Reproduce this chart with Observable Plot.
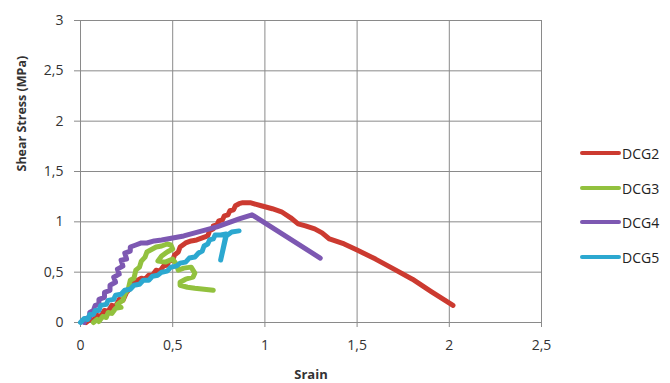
<!DOCTYPE html>
<html>
<head>
<meta charset="utf-8">
<script src="https://cdn.jsdelivr.net/npm/d3@7"></script>
<script src="https://cdn.jsdelivr.net/npm/@observablehq/plot@0.6"></script>
<style>
  body { margin: 0; background: #fff; font-family: "Open Sans", sans-serif; }
  #wrap { position: relative; width: 670px; height: 383px; }
  .leg { position: absolute; left: 580px; font-size: 14px; color: #222; display: flex; align-items: center; }
  .leg span.sw { display: inline-block; width: 41px; height: 4px; border-radius: 2px; margin-right: 1px; }
</style>
</head>
<body>
<div id="wrap"></div>
<script>
const seriesNames = ["DCG2", "DCG3", "DCG4", "DCG5"];
const seriesColors = ["#CC3A30", "#92C13E", "#7D58B2", "#2CA8D0"];
const xTicks = [0, 0.5, 1, 1.5, 2, 2.5];
const yTicks = [0, 0.5, 1, 1.5, 2, 2.5, 3];

const dcg2 = [[0.03,0],[0.05,0.03],[0.07,0.02],[0.09,0.07],[0.11,0.06],[0.13,0.12],[0.15,0.11],[0.17,0.17],[0.19,0.16],[0.21,0.23],[0.23,0.22],[0.25,0.30],[0.27,0.34],[0.29,0.40],[0.31,0.42],[0.33,0.44],[0.35,0.43],[0.37,0.47],[0.39,0.47],[0.41,0.52],[0.43,0.51],[0.45,0.56],[0.47,0.57],[0.48,0.61],[0.50,0.62],[0.51,0.67],[0.53,0.70],[0.54,0.75],[0.57,0.79],[0.60,0.81],[0.63,0.82],[0.66,0.84],[0.69,0.86],[0.70,0.91],[0.72,0.93],[0.72,0.96],[0.74,0.97],[0.75,1.01],[0.77,1.02],[0.78,1.06],[0.80,1.07],[0.81,1.11],[0.83,1.12],[0.84,1.16],[0.86,1.18],[0.88,1.19],[0.92,1.19],[0.98,1.16],[1.04,1.13],[1.09,1.10],[1.14,1.04],[1.18,0.98],[1.22,0.96],[1.27,0.93],[1.31,0.89],[1.35,0.83],[1.43,0.78],[1.50,0.72],[1.60,0.63],[1.70,0.53],[1.80,0.43],[1.90,0.31],[2.02,0.17]];
const dcg3 = [[0.07,0],[0.09,0.03],[0.10,0.01],[0.12,0.06],[0.14,0.05],[0.15,0.10],[0.17,0.09],[0.19,0.14],[0.22,0.15],[0.20,0.18],[0.23,0.22],[0.24,0.28],[0.26,0.34],[0.27,0.42],[0.29,0.44],[0.30,0.52],[0.32,0.55],[0.33,0.61],[0.35,0.65],[0.36,0.70],[0.38,0.72],[0.41,0.75],[0.44,0.76],[0.47,0.78],[0.49,0.77],[0.50,0.73],[0.47,0.70],[0.44,0.66],[0.42,0.61],[0.46,0.60],[0.50,0.63],[0.52,0.58],[0.53,0.52],[0.56,0.54],[0.60,0.55],[0.62,0.49],[0.61,0.45],[0.57,0.43],[0.54,0.40],[0.54,0.37],[0.58,0.35],[0.62,0.34],[0.67,0.33],[0.72,0.32]];
const dcg4 = [[0.02,0],[0.03,0.04],[0.05,0.05],[0.05,0.10],[0.07,0.12],[0.08,0.17],[0.10,0.18],[0.10,0.23],[0.13,0.25],[0.13,0.30],[0.16,0.32],[0.16,0.37],[0.19,0.40],[0.18,0.45],[0.21,0.48],[0.20,0.53],[0.23,0.56],[0.22,0.62],[0.25,0.63],[0.24,0.69],[0.27,0.71],[0.27,0.75],[0.30,0.77],[0.33,0.79],[0.36,0.79],[0.40,0.81],[0.44,0.82],[0.50,0.84],[0.56,0.86],[0.62,0.89],[0.68,0.92],[0.74,0.95],[0.80,0.99],[0.86,1.03],[0.93,1.07],[1.30,0.64]];
const dcg5 = [[0,0],[0.02,0.04],[0.04,0.03],[0.05,0.08],[0.07,0.08],[0.08,0.12],[0.10,0.12],[0.11,0.17],[0.14,0.18],[0.15,0.22],[0.18,0.23],[0.19,0.27],[0.22,0.28],[0.24,0.32],[0.27,0.33],[0.29,0.37],[0.32,0.38],[0.34,0.42],[0.37,0.42],[0.39,0.46],[0.42,0.47],[0.44,0.50],[0.47,0.51],[0.49,0.55],[0.52,0.56],[0.54,0.59],[0.57,0.60],[0.59,0.64],[0.62,0.65],[0.64,0.69],[0.66,0.71],[0.67,0.76],[0.69,0.78],[0.70,0.82],[0.72,0.83],[0.73,0.87],[0.76,0.87],[0.79,0.88],[0.76,0.62],[0.79,0.86],[0.82,0.90],[0.86,0.91]];

const allSeries = [dcg2, dcg3, dcg4, dcg5];
const rows = [];
allSeries.forEach((s, i) => s.forEach(([x, y]) => rows.push({series: seriesNames[i], x, y})));

const fmt = d => String(d).replace(".", ",");

const chart = Plot.plot({
  width: 670,
  height: 383,
  marginLeft: 80,
  marginRight: 129,
  marginTop: 20,
  marginBottom: 61,
  style: { fontFamily: "Open Sans, sans-serif", fontSize: "14px", color: "#333", background: "white" },
  x: { domain: [0, 2.5] },
  y: { domain: [0, 3] },
  color: { domain: seriesNames, range: seriesColors },
  marks: [
    Plot.gridX(xTicks, { stroke: "#8a8a8a", strokeOpacity: 1, strokeWidth: 1 }),
    Plot.gridY(yTicks, { stroke: "#8a8a8a", strokeOpacity: 1, strokeWidth: 1 }),
    Plot.axisX(xTicks, { tickSize: 5, tickPadding: 13, stroke: "#8a8a8a", fill: "#333", tickFormat: fmt, label: null, fontSize: 14 }),
    Plot.axisY(yTicks, { tickSize: 6, tickPadding: 11, stroke: "#8a8a8a", fill: "#333", tickFormat: fmt, label: null, fontSize: 14 }),
    Plot.ruleX([0], { stroke: "#8a8a8a" }),
    Plot.ruleY([0], { stroke: "#8a8a8a" }),
    Plot.line(rows, { x: "x", y: "y", z: "series", stroke: "series", strokeWidth: 5, strokeLinejoin: "round", strokeLinecap: "round" }),
    Plot.text(["Srain"], { frameAnchor: "bottom", dy: 56, fontWeight: "bold", fontSize: 13, fill: "#333" }),
    Plot.text(["Shear Stress (MPa)"], { frameAnchor: "left", dx: -59, rotate: -90, fontWeight: "bold", fontSize: 12.5, fill: "#333" })
  ]
});

const wrap = document.getElementById("wrap");
wrap.appendChild(chart);
const legTops = [153, 188, 222, 257];
seriesNames.forEach((n, i) => {
  const d = document.createElement("div");
  d.className = "leg";
  d.style.top = (legTops[i] - 10) + "px";
  d.style.height = "20px";
  d.innerHTML = `<span class="sw" style="background:${seriesColors[i]}"></span>${n}`;
  wrap.appendChild(d);
});
</script>
</body>
</html>
